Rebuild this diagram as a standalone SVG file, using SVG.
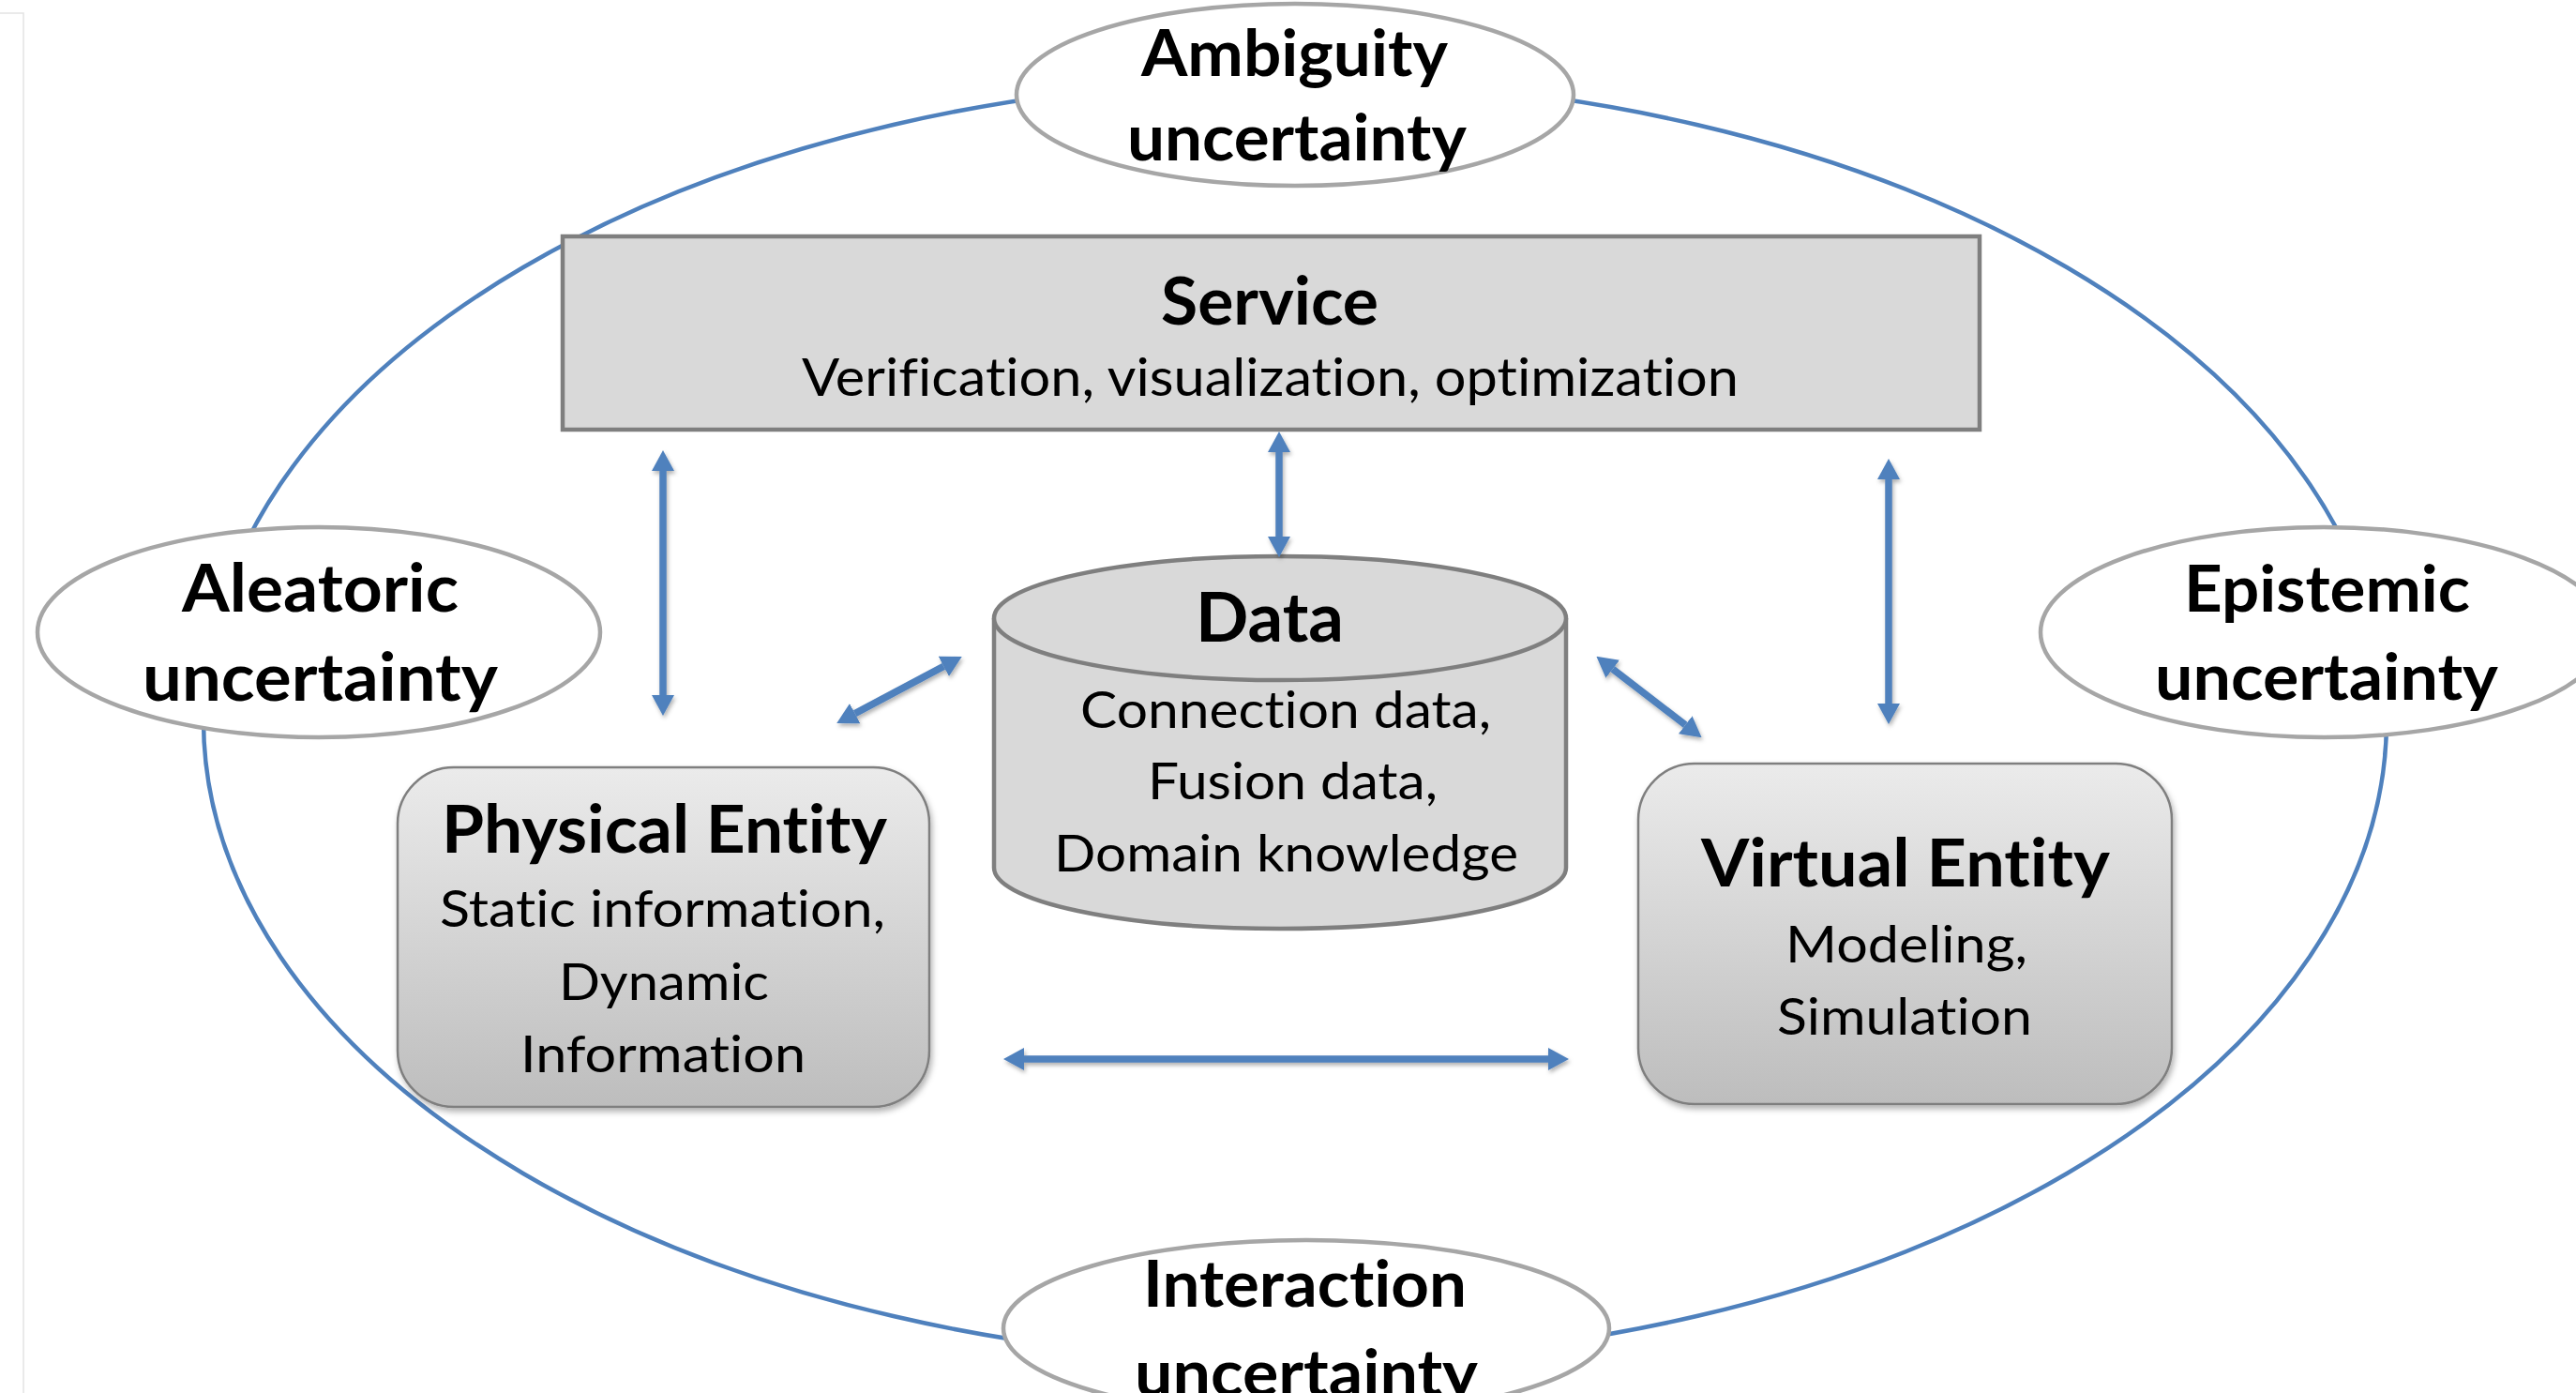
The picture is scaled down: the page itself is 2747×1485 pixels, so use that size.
<svg xmlns="http://www.w3.org/2000/svg" width="2747" height="1485" viewBox="0 0 2747 1485">
<style>
.bold{font-family:Lato,'Open Sans',sans-serif;font-weight:700;fill:#000;font-variant-ligatures:none;font-feature-settings:"liga" 0,"clig" 0}
.reg{font-family:Lato,'Open Sans',sans-serif;font-weight:400;fill:#000;font-variant-ligatures:none;font-feature-settings:"liga" 0,"clig" 0}
.unc{fill:#fff;stroke:#A6A6A6;stroke-width:4.5}
.grey{fill:#D9D9D9;stroke:#7F7F7F;stroke-width:4.5}
.ent{fill:url(#entGrad);stroke:#7F7F7F;stroke-width:2.5}
.arr{stroke:#4F81BD;stroke-width:7.5;fill:none;marker-start:url(#head);marker-end:url(#head)}
</style>
<defs>
<linearGradient id="entGrad" x1="0" y1="0" x2="0" y2="1">
<stop offset="0" stop-color="#EBEBEB"/>
<stop offset="1" stop-color="#BDBDBD"/>
</linearGradient>
<filter id="shadow" x="-10%" y="-10%" width="130%" height="130%">
<feDropShadow dx="2" dy="4" stdDeviation="3" flood-color="#000" flood-opacity="0.3"/>
</filter>
<filter id="ashadow" x="-20%" y="-20%" width="140%" height="140%">
<feDropShadow dx="1.5" dy="3" stdDeviation="2" flood-color="#000" flood-opacity="0.3"/>
</filter>
<marker id="head" viewBox="0 -12 22 24" refX="0" refY="0" markerWidth="22" markerHeight="24" markerUnits="userSpaceOnUse" orient="auto-start-reverse">
<path d="M0,-12 L22,0 L0,12 z" fill="#4F81BD"/>
</marker>
</defs>
<rect x="0" y="0" width="2747" height="1485" fill="#fff"/>
<path d="M0,14 H25 V1485" fill="none" stroke="#E3E3E3" stroke-width="1.5"/>

<g id="uncertainty-ring">
<ellipse cx="1381" cy="768" rx="1164" ry="683" fill="none" stroke="#4F81BD" stroke-width="4.5"/>
</g>

<g id="node-ambiguity">
<ellipse class="unc" cx="1381" cy="101" rx="297" ry="97"/>
<text class="bold" x="1217" y="81" font-size="68" textLength="327" lengthAdjust="spacingAndGlyphs">Ambiguity</text>
<text class="bold" x="1202" y="171" font-size="68" textLength="362" lengthAdjust="spacingAndGlyphs">uncertainty</text>
</g>

<g id="node-aleatoric">
<ellipse class="unc" cx="340" cy="674" rx="300" ry="112"/>
<text class="bold" x="194" y="652" font-size="70" textLength="295" lengthAdjust="spacingAndGlyphs">Aleatoric</text>
<text class="bold" x="152" y="747" font-size="70" textLength="379" lengthAdjust="spacingAndGlyphs">uncertainty</text>
</g>

<g id="node-epistemic">
<ellipse class="unc" cx="2478" cy="674" rx="302" ry="112"/>
<text class="bold" x="2329" y="652" font-size="68" textLength="305" lengthAdjust="spacingAndGlyphs">Epistemic</text>
<text class="bold" x="2298" y="746" font-size="68" textLength="366" lengthAdjust="spacingAndGlyphs">uncertainty</text>
</g>

<g id="node-interaction">
<ellipse class="unc" cx="1393" cy="1416" rx="323" ry="94"/>
<text class="bold" x="1219" y="1393" font-size="68" textLength="345" lengthAdjust="spacingAndGlyphs">Interaction</text>
<text class="bold" x="1210" y="1488" font-size="68" textLength="366" lengthAdjust="spacingAndGlyphs">uncertainty</text>
</g>

<g id="node-service">
<rect class="grey" x="600" y="252" width="1511" height="206"/>
<text class="bold" x="1238" y="346" font-size="71" textLength="232" lengthAdjust="spacingAndGlyphs">Service</text>
<text class="reg" x="855" y="422" font-size="56" textLength="999" lengthAdjust="spacingAndGlyphs">Verification, visualization, optimization</text>
</g>

<g id="node-data">
<path class="grey" d="M1060,659 L1060,925 A305,65 0 0 0 1670,925 L1670,659"/>
<ellipse class="grey" cx="1365" cy="659" rx="305" ry="66"/>
<text class="bold" x="1275" y="684" font-size="73" textLength="158" lengthAdjust="spacingAndGlyphs">Data</text>
<text class="reg" x="1152" y="776" font-size="55" textLength="438" lengthAdjust="spacingAndGlyphs">Connection data,</text>
<text class="reg" x="1224" y="852" font-size="55" textLength="309" lengthAdjust="spacingAndGlyphs">Fusion data,</text>
<text class="reg" x="1124" y="929" font-size="55" textLength="495" lengthAdjust="spacingAndGlyphs">Domain knowledge</text>
</g>

<g id="node-physical">
<rect class="ent" x="424" y="818" width="567" height="362" rx="60" ry="60" filter="url(#shadow)"/>
<text class="bold" x="471" y="909" font-size="70" textLength="475" lengthAdjust="spacingAndGlyphs">Physical Entity</text>
<text class="reg" x="469" y="988" font-size="55" textLength="475" lengthAdjust="spacingAndGlyphs">Static information,</text>
<text class="reg" x="596" y="1066" font-size="55" textLength="224" lengthAdjust="spacingAndGlyphs">Dynamic</text>
<text class="reg" x="555" y="1143" font-size="55" textLength="304" lengthAdjust="spacingAndGlyphs">Information</text>
</g>

<g id="node-virtual">
<rect class="ent" x="1747" y="814" width="569" height="363" rx="60" ry="60" filter="url(#shadow)"/>
<text class="bold" x="1814" y="945" font-size="70" textLength="436" lengthAdjust="spacingAndGlyphs">Virtual Entity</text>
<text class="reg" x="1904" y="1026" font-size="55" textLength="258" lengthAdjust="spacingAndGlyphs">Modeling,</text>
<text class="reg" x="1895" y="1103" font-size="55" textLength="272" lengthAdjust="spacingAndGlyphs">Simulation</text>
</g>

<g id="connectors" filter="url(#ashadow)">
<line class="arr" x1="707" y1="502" x2="707" y2="741"/>
<line class="arr" x1="1364" y1="482" x2="1364" y2="572"/>
<line class="arr" x1="2014" y1="511" x2="2014" y2="750"/>
<line class="arr" x1="911.7" y1="760.6" x2="1006.3" y2="710.4"/>
<line class="arr" x1="1719.8" y1="713.2" x2="1797.2" y2="772.8"/>
<line class="arr" x1="1092" y1="1129" x2="1651" y2="1129"/>
</g>
</svg>
